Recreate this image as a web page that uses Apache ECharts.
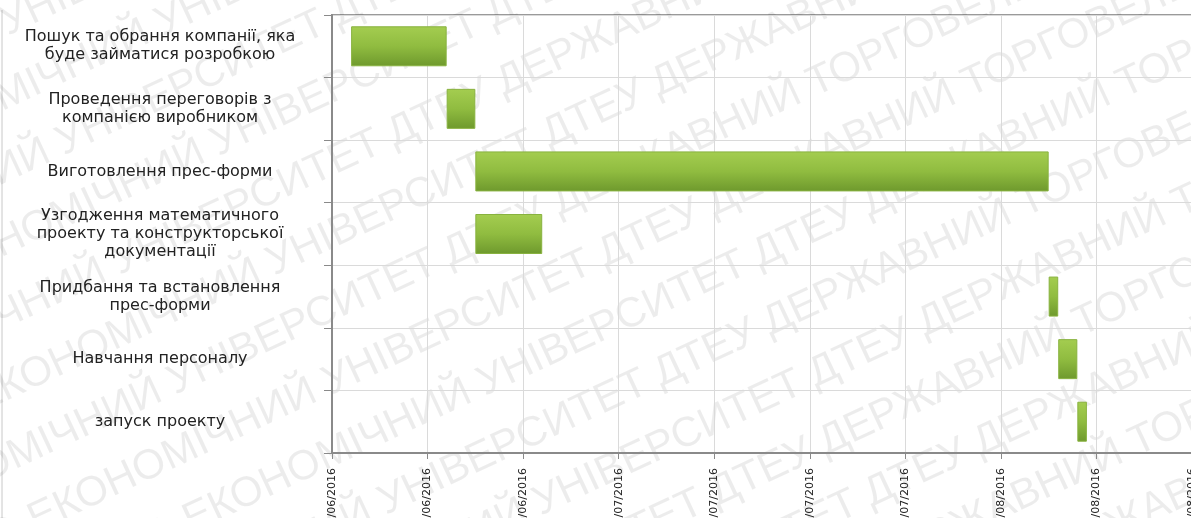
<!DOCTYPE html>
<html>
<head>
<meta charset="utf-8">
<script src="https://cdn.jsdelivr.net/npm/echarts@6/dist/echarts.min.js"></script>
<style>
  html, body { margin: 0; padding: 0; background: #ffffff; }
  #chart { width: 1191px; height: 518px; }
</style>
</head>
<body>
<div id="chart"></div>
<script>
// Project schedule (Gantt): each task has a start date and a duration in days.
const taskNames = [
  'Пошук та обрання компанії, яка\nбуде займатися розробкою',
  'Проведення переговорів з\nкомпанією виробником',
  'Виготовлення прес-форми',
  'Узгодження математичного\nпроекту та конструкторської\nдокументації',
  'Придбання та встановлення\nпрес-форми',
  'Навчання персоналу',
  'запуск проекту'
];
const startDates = ['2016-06-03', '2016-06-13', '2016-06-16', '2016-06-16', '2016-08-15', '2016-08-16', '2016-08-18'];
const durationDays = [10, 3, 60, 7, 1, 2, 1];

// Time axis: starts 01/06/2016, one tick every 10 days
const axisStart = '2016-06-01';
const axisEnd = '2016-08-30';
const tickStepDays = 10;

const watermarkText = 'ДТЕУ ДЕРЖАВНИЙ ТОРГОВЕЛЬНО-ЕКОНОМІЧНИЙ УНІВЕРСИТЕТ';

const DAY = 86400000;
const dayOffset = s => (Date.parse(s) - Date.parse(axisStart)) / DAY;
const pad = n => String(n).padStart(2, '0');
const formatDay = v => {
  const d = new Date(Date.parse(axisStart) + v * DAY);
  return pad(d.getUTCDate()) + '/' + pad(d.getUTCMonth() + 1) + '/' + d.getUTCFullYear();
};

const offsets = startDates.map(dayOffset);

// Repeating diagonal watermark over the chart
const wmRows = [];
const wmLine = Array(4).fill(watermarkText).join(' ');
for (let i = -9; i <= 9; i++) {
  wmRows.push({
    type: 'text',
    x: (i % 2) * 140,
    y: i * 66,
    style: {
      text: wmLine,
      fill: 'rgba(0,0,0,0.075)',
      font: '42px "Liberation Sans", Arial, sans-serif',
      align: 'center',
      verticalAlign: 'middle'
    }
  });
}

const chart = echarts.init(document.getElementById('chart'), null, { renderer: 'canvas' });

chart.setOption({
  animation: false,
  backgroundColor: '#ffffff',
  grid: {
    left: 332, right: -1, top: 15, bottom: 65,
    outerBoundsMode: 'none',
    containLabel: false,
    show: true, borderColor: '#9a9a9a', borderWidth: 2, backgroundColor: 'transparent'
  },
  xAxis: {
    type: 'value',
    min: 0,
    max: dayOffset(axisEnd),
    interval: tickStepDays,
    axisLine: { show: true, lineStyle: { color: '#8a8a8a', width: 2 } },
    axisTick: { show: true, length: 6, lineStyle: { color: '#8a8a8a' } },
    splitLine: { show: true, lineStyle: { color: '#dadada', width: 1 } },
    axisLabel: {
      rotate: 90,
      margin: 15,
      hideOverlap: false,
      formatter: formatDay,
      fontFamily: '"DejaVu Sans", sans-serif',
      fontSize: 11,
      color: '#222'
    }
  },
  yAxis: {
    type: 'category',
    inverse: true,
    data: taskNames,
    axisLine: { show: true, lineStyle: { color: '#8a8a8a', width: 2 } },
    axisTick: { show: true, length: 8, lineStyle: { color: '#8a8a8a' } },
    splitLine: { show: true, lineStyle: { color: '#dadada', width: 1 } },
    axisLabel: {
      interval: 0,
      align: 'center',
      margin: 172,
      lineHeight: 18,
      fontFamily: '"DejaVu Sans", sans-serif',
      fontSize: 16,
      color: '#222'
    }
  },
  series: [
    {
      name: 'start',
      type: 'bar',
      stack: 'plan',
      data: offsets,
      barWidth: 40,
      itemStyle: { color: 'transparent' },
      emphasis: { disabled: true },
      silent: true
    },
    {
      name: 'duration',
      type: 'bar',
      stack: 'plan',
      data: durationDays,
      barWidth: 40,
      itemStyle: {
        color: new echarts.graphic.LinearGradient(0, 0, 0, 1, [
          { offset: 0, color: '#a4cd50' },
          { offset: 0.5, color: '#90bc40' },
          { offset: 1, color: '#6e992d' }
        ]),
        borderColor: '#88b23f',
        borderWidth: 1
      }
    }
  ],
  graphic: [
    {
      type: 'line',
      silent: true,
      shape: { x1: 2, y1: 10, x2: 2, y2: 518 },
      style: { stroke: '#c8c8c8', lineWidth: 1 }
    },
    {
      type: 'group',
      silent: true,
      x: 595,
      y: 259,
      rotation: 25 * Math.PI / 180,
      z: 100,
      children: wmRows
    }
  ]
});
</script>
</body>
</html>
